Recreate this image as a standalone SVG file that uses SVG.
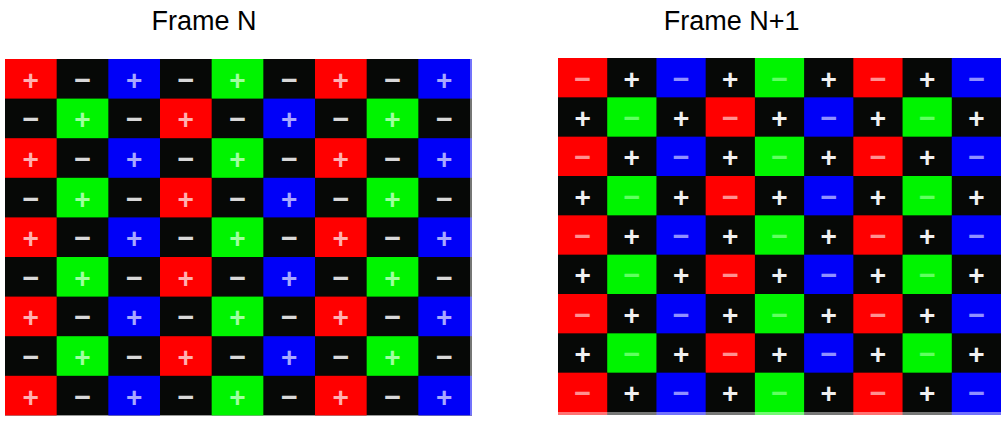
<svg xmlns="http://www.w3.org/2000/svg" width="1001" height="421" viewBox="0 0 1001 421">
<style>
.t{font-family:"Liberation Sans",Arial,sans-serif;font-size:27px;text-anchor:middle;fill:#000}
.s{font-family:"Liberation Sans",Arial,sans-serif;font-weight:bold;font-size:28px;text-anchor:middle}
.k{fill:#060806}
.r{fill:#ff0000}
.g{fill:#00f400}
.b{fill:#0000f8}
.pr{fill:#ffb0b0}
.pg{fill:#a0ffa0}
.pb{fill:#a8a8ff}
.pw{fill:#f0f0f0}
.mw{fill:#d8d8d8}
.mr{fill:#ff9090}
.mg{fill:#60ff60}
.mb{fill:#9090ff}
.edge{fill:#fff;opacity:0.45}
</style>
<g id="title-n"><text class="t" x="204" y="30">Frame N</text></g>
<g id="title-n1"><text class="t" x="731.7" y="30">Frame N+1</text></g>

<g id="frame-n">
<rect class="k" x="5" y="59" width="467" height="356.4"/>
<g id="frame-n-cells">
<rect class="r" x="5" y="59" width="51.67" height="39.6"/>
<rect class="b" x="108.33" y="59" width="51.67" height="39.6"/>
<rect class="g" x="211.67" y="59" width="51.67" height="39.6"/>
<rect class="r" x="315" y="59" width="51.67" height="39.6"/>
<rect class="b" x="418.33" y="59" width="53.67" height="39.6"/>
<rect class="g" x="56.67" y="98.6" width="51.67" height="39.6"/>
<rect class="r" x="160" y="98.6" width="51.67" height="39.6"/>
<rect class="b" x="263.33" y="98.6" width="51.67" height="39.6"/>
<rect class="g" x="366.67" y="98.6" width="51.67" height="39.6"/>
<rect class="r" x="5" y="138.2" width="51.67" height="39.6"/>
<rect class="b" x="108.33" y="138.2" width="51.67" height="39.6"/>
<rect class="g" x="211.67" y="138.2" width="51.67" height="39.6"/>
<rect class="r" x="315" y="138.2" width="51.67" height="39.6"/>
<rect class="b" x="418.33" y="138.2" width="53.67" height="39.6"/>
<rect class="g" x="56.67" y="177.8" width="51.67" height="39.6"/>
<rect class="r" x="160" y="177.8" width="51.67" height="39.6"/>
<rect class="b" x="263.33" y="177.8" width="51.67" height="39.6"/>
<rect class="g" x="366.67" y="177.8" width="51.67" height="39.6"/>
<rect class="r" x="5" y="217.4" width="51.67" height="39.6"/>
<rect class="b" x="108.33" y="217.4" width="51.67" height="39.6"/>
<rect class="g" x="211.67" y="217.4" width="51.67" height="39.6"/>
<rect class="r" x="315" y="217.4" width="51.67" height="39.6"/>
<rect class="b" x="418.33" y="217.4" width="53.67" height="39.6"/>
<rect class="g" x="56.67" y="257" width="51.67" height="39.6"/>
<rect class="r" x="160" y="257" width="51.67" height="39.6"/>
<rect class="b" x="263.33" y="257" width="51.67" height="39.6"/>
<rect class="g" x="366.67" y="257" width="51.67" height="39.6"/>
<rect class="r" x="5" y="296.6" width="51.67" height="39.6"/>
<rect class="b" x="108.33" y="296.6" width="51.67" height="39.6"/>
<rect class="g" x="211.67" y="296.6" width="51.67" height="39.6"/>
<rect class="r" x="315" y="296.6" width="51.67" height="39.6"/>
<rect class="b" x="418.33" y="296.6" width="53.67" height="39.6"/>
<rect class="g" x="56.67" y="336.2" width="51.67" height="39.6"/>
<rect class="r" x="160" y="336.2" width="51.67" height="39.6"/>
<rect class="b" x="263.33" y="336.2" width="51.67" height="39.6"/>
<rect class="g" x="366.67" y="336.2" width="51.67" height="39.6"/>
<rect class="r" x="5" y="375.8" width="51.67" height="39.6"/>
<rect class="b" x="108.33" y="375.8" width="51.67" height="39.6"/>
<rect class="g" x="211.67" y="375.8" width="51.67" height="39.6"/>
<rect class="r" x="315" y="375.8" width="51.67" height="39.6"/>
<rect class="b" x="418.33" y="375.8" width="53.67" height="39.6"/>
<rect class="edge" x="470" y="59" width="2" height="356.4"/>
</g>
<g id="frame-n-signs">
<g transform="translate(0,78.8)">
<text class="s pr" x="30.8" y="11">+</text><text class="s mw" x="82.5" y="9" textLength="19" lengthAdjust="spacingAndGlyphs">-</text><text class="s pb" x="134.2" y="11">+</text><text class="s mw" x="185.8" y="9" textLength="19" lengthAdjust="spacingAndGlyphs">-</text><text class="s pg" x="237.5" y="11">+</text><text class="s mw" x="289.2" y="9" textLength="19" lengthAdjust="spacingAndGlyphs">-</text><text class="s pr" x="340.8" y="11">+</text><text class="s mw" x="392.5" y="9" textLength="19" lengthAdjust="spacingAndGlyphs">-</text><text class="s pb" x="444.2" y="11">+</text>
</g>
<g transform="translate(0,118.4)">
<text class="s mw" x="30.8" y="9" textLength="19" lengthAdjust="spacingAndGlyphs">-</text><text class="s pg" x="82.5" y="11">+</text><text class="s mw" x="134.2" y="9" textLength="19" lengthAdjust="spacingAndGlyphs">-</text><text class="s pr" x="185.8" y="11">+</text><text class="s mw" x="237.5" y="9" textLength="19" lengthAdjust="spacingAndGlyphs">-</text><text class="s pb" x="289.2" y="11">+</text><text class="s mw" x="340.8" y="9" textLength="19" lengthAdjust="spacingAndGlyphs">-</text><text class="s pg" x="392.5" y="11">+</text><text class="s mw" x="444.2" y="9" textLength="19" lengthAdjust="spacingAndGlyphs">-</text>
</g>
<g transform="translate(0,158)">
<text class="s pr" x="30.8" y="11">+</text><text class="s mw" x="82.5" y="9" textLength="19" lengthAdjust="spacingAndGlyphs">-</text><text class="s pb" x="134.2" y="11">+</text><text class="s mw" x="185.8" y="9" textLength="19" lengthAdjust="spacingAndGlyphs">-</text><text class="s pg" x="237.5" y="11">+</text><text class="s mw" x="289.2" y="9" textLength="19" lengthAdjust="spacingAndGlyphs">-</text><text class="s pr" x="340.8" y="11">+</text><text class="s mw" x="392.5" y="9" textLength="19" lengthAdjust="spacingAndGlyphs">-</text><text class="s pb" x="444.2" y="11">+</text>
</g>
<g transform="translate(0,197.6)">
<text class="s mw" x="30.8" y="9" textLength="19" lengthAdjust="spacingAndGlyphs">-</text><text class="s pg" x="82.5" y="11">+</text><text class="s mw" x="134.2" y="9" textLength="19" lengthAdjust="spacingAndGlyphs">-</text><text class="s pr" x="185.8" y="11">+</text><text class="s mw" x="237.5" y="9" textLength="19" lengthAdjust="spacingAndGlyphs">-</text><text class="s pb" x="289.2" y="11">+</text><text class="s mw" x="340.8" y="9" textLength="19" lengthAdjust="spacingAndGlyphs">-</text><text class="s pg" x="392.5" y="11">+</text><text class="s mw" x="444.2" y="9" textLength="19" lengthAdjust="spacingAndGlyphs">-</text>
</g>
<g transform="translate(0,237.2)">
<text class="s pr" x="30.8" y="11">+</text><text class="s mw" x="82.5" y="9" textLength="19" lengthAdjust="spacingAndGlyphs">-</text><text class="s pb" x="134.2" y="11">+</text><text class="s mw" x="185.8" y="9" textLength="19" lengthAdjust="spacingAndGlyphs">-</text><text class="s pg" x="237.5" y="11">+</text><text class="s mw" x="289.2" y="9" textLength="19" lengthAdjust="spacingAndGlyphs">-</text><text class="s pr" x="340.8" y="11">+</text><text class="s mw" x="392.5" y="9" textLength="19" lengthAdjust="spacingAndGlyphs">-</text><text class="s pb" x="444.2" y="11">+</text>
</g>
<g transform="translate(0,276.8)">
<text class="s mw" x="30.8" y="9" textLength="19" lengthAdjust="spacingAndGlyphs">-</text><text class="s pg" x="82.5" y="11">+</text><text class="s mw" x="134.2" y="9" textLength="19" lengthAdjust="spacingAndGlyphs">-</text><text class="s pr" x="185.8" y="11">+</text><text class="s mw" x="237.5" y="9" textLength="19" lengthAdjust="spacingAndGlyphs">-</text><text class="s pb" x="289.2" y="11">+</text><text class="s mw" x="340.8" y="9" textLength="19" lengthAdjust="spacingAndGlyphs">-</text><text class="s pg" x="392.5" y="11">+</text><text class="s mw" x="444.2" y="9" textLength="19" lengthAdjust="spacingAndGlyphs">-</text>
</g>
<g transform="translate(0,316.4)">
<text class="s pr" x="30.8" y="11">+</text><text class="s mw" x="82.5" y="9" textLength="19" lengthAdjust="spacingAndGlyphs">-</text><text class="s pb" x="134.2" y="11">+</text><text class="s mw" x="185.8" y="9" textLength="19" lengthAdjust="spacingAndGlyphs">-</text><text class="s pg" x="237.5" y="11">+</text><text class="s mw" x="289.2" y="9" textLength="19" lengthAdjust="spacingAndGlyphs">-</text><text class="s pr" x="340.8" y="11">+</text><text class="s mw" x="392.5" y="9" textLength="19" lengthAdjust="spacingAndGlyphs">-</text><text class="s pb" x="444.2" y="11">+</text>
</g>
<g transform="translate(0,356)">
<text class="s mw" x="30.8" y="9" textLength="19" lengthAdjust="spacingAndGlyphs">-</text><text class="s pg" x="82.5" y="11">+</text><text class="s mw" x="134.2" y="9" textLength="19" lengthAdjust="spacingAndGlyphs">-</text><text class="s pr" x="185.8" y="11">+</text><text class="s mw" x="237.5" y="9" textLength="19" lengthAdjust="spacingAndGlyphs">-</text><text class="s pb" x="289.2" y="11">+</text><text class="s mw" x="340.8" y="9" textLength="19" lengthAdjust="spacingAndGlyphs">-</text><text class="s pg" x="392.5" y="11">+</text><text class="s mw" x="444.2" y="9" textLength="19" lengthAdjust="spacingAndGlyphs">-</text>
</g>
<g transform="translate(0,395.6)">
<text class="s pr" x="30.8" y="11">+</text><text class="s mw" x="82.5" y="9" textLength="19" lengthAdjust="spacingAndGlyphs">-</text><text class="s pb" x="134.2" y="11">+</text><text class="s mw" x="185.8" y="9" textLength="19" lengthAdjust="spacingAndGlyphs">-</text><text class="s pg" x="237.5" y="11">+</text><text class="s mw" x="289.2" y="9" textLength="19" lengthAdjust="spacingAndGlyphs">-</text><text class="s pr" x="340.8" y="11">+</text><text class="s mw" x="392.5" y="9" textLength="19" lengthAdjust="spacingAndGlyphs">-</text><text class="s pb" x="444.2" y="11">+</text>
</g>
</g>
</g>

<g id="frame-n1">
<rect class="k" x="558" y="58" width="443" height="357"/>
<g id="frame-n1-cells">
<rect class="r" x="558" y="58" width="49.22" height="39.33"/>
<rect class="b" x="656.44" y="58" width="49.22" height="39.33"/>
<rect class="g" x="754.89" y="58" width="49.22" height="39.33"/>
<rect class="r" x="853.33" y="58" width="49.22" height="39.33"/>
<rect class="b" x="951.78" y="58" width="49.22" height="39.33"/>
<rect class="g" x="607.22" y="97.33" width="49.22" height="39.33"/>
<rect class="r" x="705.67" y="97.33" width="49.22" height="39.33"/>
<rect class="b" x="804.11" y="97.33" width="49.22" height="39.33"/>
<rect class="g" x="902.56" y="97.33" width="49.22" height="39.33"/>
<rect class="r" x="558" y="136.67" width="49.22" height="39.33"/>
<rect class="b" x="656.44" y="136.67" width="49.22" height="39.33"/>
<rect class="g" x="754.89" y="136.67" width="49.22" height="39.33"/>
<rect class="r" x="853.33" y="136.67" width="49.22" height="39.33"/>
<rect class="b" x="951.78" y="136.67" width="49.22" height="39.33"/>
<rect class="g" x="607.22" y="176" width="49.22" height="39.33"/>
<rect class="r" x="705.67" y="176" width="49.22" height="39.33"/>
<rect class="b" x="804.11" y="176" width="49.22" height="39.33"/>
<rect class="g" x="902.56" y="176" width="49.22" height="39.33"/>
<rect class="r" x="558" y="215.33" width="49.22" height="39.33"/>
<rect class="b" x="656.44" y="215.33" width="49.22" height="39.33"/>
<rect class="g" x="754.89" y="215.33" width="49.22" height="39.33"/>
<rect class="r" x="853.33" y="215.33" width="49.22" height="39.33"/>
<rect class="b" x="951.78" y="215.33" width="49.22" height="39.33"/>
<rect class="g" x="607.22" y="254.67" width="49.22" height="39.33"/>
<rect class="r" x="705.67" y="254.67" width="49.22" height="39.33"/>
<rect class="b" x="804.11" y="254.67" width="49.22" height="39.33"/>
<rect class="g" x="902.56" y="254.67" width="49.22" height="39.33"/>
<rect class="r" x="558" y="294" width="49.22" height="39.33"/>
<rect class="b" x="656.44" y="294" width="49.22" height="39.33"/>
<rect class="g" x="754.89" y="294" width="49.22" height="39.33"/>
<rect class="r" x="853.33" y="294" width="49.22" height="39.33"/>
<rect class="b" x="951.78" y="294" width="49.22" height="39.33"/>
<rect class="g" x="607.22" y="333.33" width="49.22" height="39.33"/>
<rect class="r" x="705.67" y="333.33" width="49.22" height="39.33"/>
<rect class="b" x="804.11" y="333.33" width="49.22" height="39.33"/>
<rect class="g" x="902.56" y="333.33" width="49.22" height="39.33"/>
<rect class="r" x="558" y="372.67" width="49.22" height="42.33"/>
<rect class="b" x="656.44" y="372.67" width="49.22" height="42.33"/>
<rect class="g" x="754.89" y="372.67" width="49.22" height="42.33"/>
<rect class="r" x="853.33" y="372.67" width="49.22" height="42.33"/>
<rect class="b" x="951.78" y="372.67" width="49.22" height="42.33"/>
<rect class="edge" x="558" y="412" width="443" height="3"/>
</g>
<g id="frame-n1-signs">
<g transform="translate(0,77.7)">
<text class="s mr" x="582.6" y="9" textLength="19" lengthAdjust="spacingAndGlyphs">-</text><text class="s pw" x="631.8" y="11">+</text><text class="s mb" x="681.1" y="9" textLength="19" lengthAdjust="spacingAndGlyphs">-</text><text class="s pw" x="730.3" y="11">+</text><text class="s mg" x="779.5" y="9" textLength="19" lengthAdjust="spacingAndGlyphs">-</text><text class="s pw" x="828.7" y="11">+</text><text class="s mr" x="877.9" y="9" textLength="19" lengthAdjust="spacingAndGlyphs">-</text><text class="s pw" x="927.2" y="11">+</text><text class="s mb" x="976.4" y="9" textLength="19" lengthAdjust="spacingAndGlyphs">-</text>
</g>
<g transform="translate(0,117)">
<text class="s pw" x="582.6" y="11">+</text><text class="s mg" x="631.8" y="9" textLength="19" lengthAdjust="spacingAndGlyphs">-</text><text class="s pw" x="681.1" y="11">+</text><text class="s mr" x="730.3" y="9" textLength="19" lengthAdjust="spacingAndGlyphs">-</text><text class="s pw" x="779.5" y="11">+</text><text class="s mb" x="828.7" y="9" textLength="19" lengthAdjust="spacingAndGlyphs">-</text><text class="s pw" x="877.9" y="11">+</text><text class="s mg" x="927.2" y="9" textLength="19" lengthAdjust="spacingAndGlyphs">-</text><text class="s pw" x="976.4" y="11">+</text>
</g>
<g transform="translate(0,156.3)">
<text class="s mr" x="582.6" y="9" textLength="19" lengthAdjust="spacingAndGlyphs">-</text><text class="s pw" x="631.8" y="11">+</text><text class="s mb" x="681.1" y="9" textLength="19" lengthAdjust="spacingAndGlyphs">-</text><text class="s pw" x="730.3" y="11">+</text><text class="s mg" x="779.5" y="9" textLength="19" lengthAdjust="spacingAndGlyphs">-</text><text class="s pw" x="828.7" y="11">+</text><text class="s mr" x="877.9" y="9" textLength="19" lengthAdjust="spacingAndGlyphs">-</text><text class="s pw" x="927.2" y="11">+</text><text class="s mb" x="976.4" y="9" textLength="19" lengthAdjust="spacingAndGlyphs">-</text>
</g>
<g transform="translate(0,195.7)">
<text class="s pw" x="582.6" y="11">+</text><text class="s mg" x="631.8" y="9" textLength="19" lengthAdjust="spacingAndGlyphs">-</text><text class="s pw" x="681.1" y="11">+</text><text class="s mr" x="730.3" y="9" textLength="19" lengthAdjust="spacingAndGlyphs">-</text><text class="s pw" x="779.5" y="11">+</text><text class="s mb" x="828.7" y="9" textLength="19" lengthAdjust="spacingAndGlyphs">-</text><text class="s pw" x="877.9" y="11">+</text><text class="s mg" x="927.2" y="9" textLength="19" lengthAdjust="spacingAndGlyphs">-</text><text class="s pw" x="976.4" y="11">+</text>
</g>
<g transform="translate(0,235)">
<text class="s mr" x="582.6" y="9" textLength="19" lengthAdjust="spacingAndGlyphs">-</text><text class="s pw" x="631.8" y="11">+</text><text class="s mb" x="681.1" y="9" textLength="19" lengthAdjust="spacingAndGlyphs">-</text><text class="s pw" x="730.3" y="11">+</text><text class="s mg" x="779.5" y="9" textLength="19" lengthAdjust="spacingAndGlyphs">-</text><text class="s pw" x="828.7" y="11">+</text><text class="s mr" x="877.9" y="9" textLength="19" lengthAdjust="spacingAndGlyphs">-</text><text class="s pw" x="927.2" y="11">+</text><text class="s mb" x="976.4" y="9" textLength="19" lengthAdjust="spacingAndGlyphs">-</text>
</g>
<g transform="translate(0,274.3)">
<text class="s pw" x="582.6" y="11">+</text><text class="s mg" x="631.8" y="9" textLength="19" lengthAdjust="spacingAndGlyphs">-</text><text class="s pw" x="681.1" y="11">+</text><text class="s mr" x="730.3" y="9" textLength="19" lengthAdjust="spacingAndGlyphs">-</text><text class="s pw" x="779.5" y="11">+</text><text class="s mb" x="828.7" y="9" textLength="19" lengthAdjust="spacingAndGlyphs">-</text><text class="s pw" x="877.9" y="11">+</text><text class="s mg" x="927.2" y="9" textLength="19" lengthAdjust="spacingAndGlyphs">-</text><text class="s pw" x="976.4" y="11">+</text>
</g>
<g transform="translate(0,313.7)">
<text class="s mr" x="582.6" y="9" textLength="19" lengthAdjust="spacingAndGlyphs">-</text><text class="s pw" x="631.8" y="11">+</text><text class="s mb" x="681.1" y="9" textLength="19" lengthAdjust="spacingAndGlyphs">-</text><text class="s pw" x="730.3" y="11">+</text><text class="s mg" x="779.5" y="9" textLength="19" lengthAdjust="spacingAndGlyphs">-</text><text class="s pw" x="828.7" y="11">+</text><text class="s mr" x="877.9" y="9" textLength="19" lengthAdjust="spacingAndGlyphs">-</text><text class="s pw" x="927.2" y="11">+</text><text class="s mb" x="976.4" y="9" textLength="19" lengthAdjust="spacingAndGlyphs">-</text>
</g>
<g transform="translate(0,353)">
<text class="s pw" x="582.6" y="11">+</text><text class="s mg" x="631.8" y="9" textLength="19" lengthAdjust="spacingAndGlyphs">-</text><text class="s pw" x="681.1" y="11">+</text><text class="s mr" x="730.3" y="9" textLength="19" lengthAdjust="spacingAndGlyphs">-</text><text class="s pw" x="779.5" y="11">+</text><text class="s mb" x="828.7" y="9" textLength="19" lengthAdjust="spacingAndGlyphs">-</text><text class="s pw" x="877.9" y="11">+</text><text class="s mg" x="927.2" y="9" textLength="19" lengthAdjust="spacingAndGlyphs">-</text><text class="s pw" x="976.4" y="11">+</text>
</g>
<g transform="translate(0,392.3)">
<text class="s mr" x="582.6" y="9" textLength="19" lengthAdjust="spacingAndGlyphs">-</text><text class="s pw" x="631.8" y="11">+</text><text class="s mb" x="681.1" y="9" textLength="19" lengthAdjust="spacingAndGlyphs">-</text><text class="s pw" x="730.3" y="11">+</text><text class="s mg" x="779.5" y="9" textLength="19" lengthAdjust="spacingAndGlyphs">-</text><text class="s pw" x="828.7" y="11">+</text><text class="s mr" x="877.9" y="9" textLength="19" lengthAdjust="spacingAndGlyphs">-</text><text class="s pw" x="927.2" y="11">+</text><text class="s mb" x="976.4" y="9" textLength="19" lengthAdjust="spacingAndGlyphs">-</text>
</g>
</g>
</g>
</svg>
